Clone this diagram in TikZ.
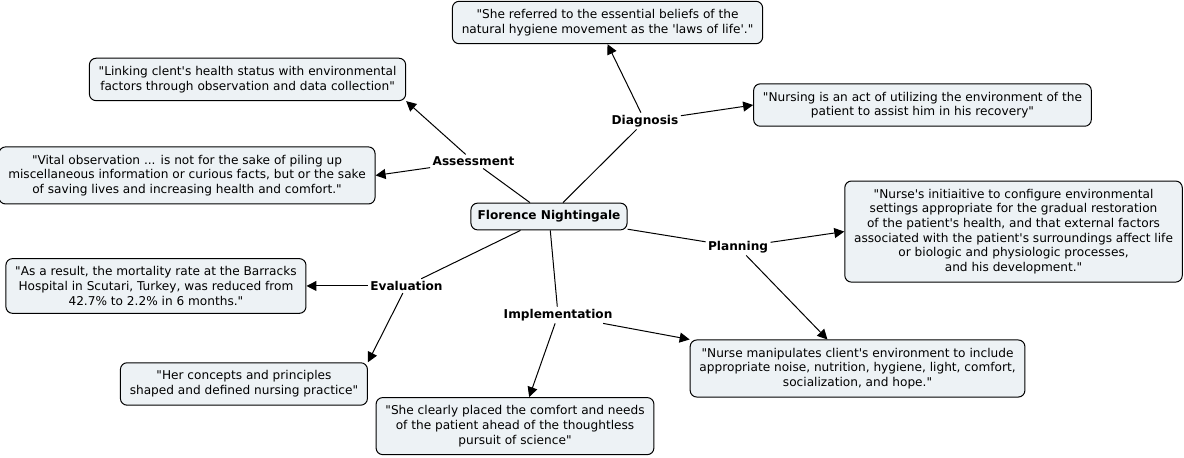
\documentclass[tikz,border=0pt]{standalone}
\usepackage{fontspec}
\setmainfont{DejaVu Sans}[Ligatures=TeXOff]
\usetikzlibrary{positioning, arrows.meta}
\definecolor{boxfill}{RGB}{237,242,245}
\tikzset{
    >={Triangle[length=7.5pt,width=7.5pt]},
    concept/.style={draw, rounded corners=5pt, fill=boxfill, align=center,
        font=\fontsize{9.1}{11}\selectfont, inner xsep=7pt, inner ysep=6pt},
    root/.style={concept, font=\fontsize{9.1}{11}\selectfont\bfseries, inner xsep=5pt, inner ysep=5.6pt},
    phrase/.style={font=\fontsize{9.1}{11}\selectfont\bfseries, inner sep=1.5pt},
}

\begin{document}
\begin{tikzpicture}[x=0.75pt, y=-0.75pt, line width=0.75pt, on grid]

\fill[white] (0,0) rectangle (1184,457);
\useasboundingbox (0,0) rectangle (1184,457);

\node[root] (fn) at (549,216.5) {Florence Nightingale};

\node[phrase] (assess) [above left=41.3pt and 56.6pt of fn] {Assessment};
\node[phrase] (diag) [above right=71.6pt and 72pt of fn] {Diagnosis};
\node[phrase] (plan) [below right=22.9pt and 141.8pt of fn] {Planning};
\node[phrase] (eval) [below left=52.1pt and 106.9pt of fn] {Evaluation};
\node[phrase] (impl) [below right=73.9pt and 6.8pt of fn] {Implementation};

\node[concept] (referred) [above left=73.9pt and 28.1pt of diag]
    {"She referred to the essential beliefs of the\\natural hygiene movement as the 'laws of life'."};
\node[concept] (nursing) [above right=12pt and 208.1pt of diag]
    {"Nursing is an act of utilizing the environment of the\\patient to assist him in his recovery"};
\node[concept] (link) [above left=61.5pt and 169.5pt of assess]
    {"Linking clent's health status with environmental\\factors through observation and data collection"};
\node[concept] (vital) [below left=10.5pt and 214.9pt of assess]
    {"Vital observation ... is not for the sake of piling up\\miscellaneous information or curious facts, but or the sake\\of saving lives and increasing health and comfort."};
\node[concept] (initiative) [above right=11.6pt and 206.6pt of plan]
    {"Nurse's initiaitive to configure environmental\\settings appropriate for the gradual restoration\\of the patient's health, and that external factors\\associated with the patient's surroundings affect life\\or biologic and physiologic processes,\\and his development."};
\node[concept] (manip) [below right=91.1pt and 89.6pt of plan]
    {"Nurse manipulates client's environment to include\\appropriate noise, nutrition, hygiene, light, comfort,\\socialization, and hope."};
\node[concept] (result) [left=187.9pt of eval]
    {"As a result, the mortality rate at the Barracks\\Hospital in Scutari, Turkey, was reduced from\\42.7\% to 2.2\% in 6 months."};
\node[concept] (concepts) [below left=73.5pt and 121.9pt of eval]
    {"Her concepts and principles\\shaped and defined nursing practice"};
\node[concept] (clearly) [below left=83.3pt and 32.3pt of impl]
    {"She clearly placed the comfort and needs\\of the patient ahead of the thoughtless\\pursuit of science"};

\draw (fn) -- (assess);
\draw (fn) -- (diag);
\draw (fn) -- (plan);
\draw (fn) -- (eval);
\draw (fn) -- (impl);

\draw[->] (assess) -- (link.south east);
\draw[->] (assess) -- (vital.east);
\draw[->] (diag) -- (referred.south);
\draw[->] (diag) -- (nursing.west);
\draw[->] (plan) -- (initiative.west);
\draw[->] (plan) -- (manip.136);
\draw[->] (eval) -- (result.east);
\draw[->] (eval) -- (concepts.north east);
\draw[->] (impl) -- (clearly.64);
\draw[->] (impl) -- (manip.north west);

\end{tikzpicture}
\end{document}
